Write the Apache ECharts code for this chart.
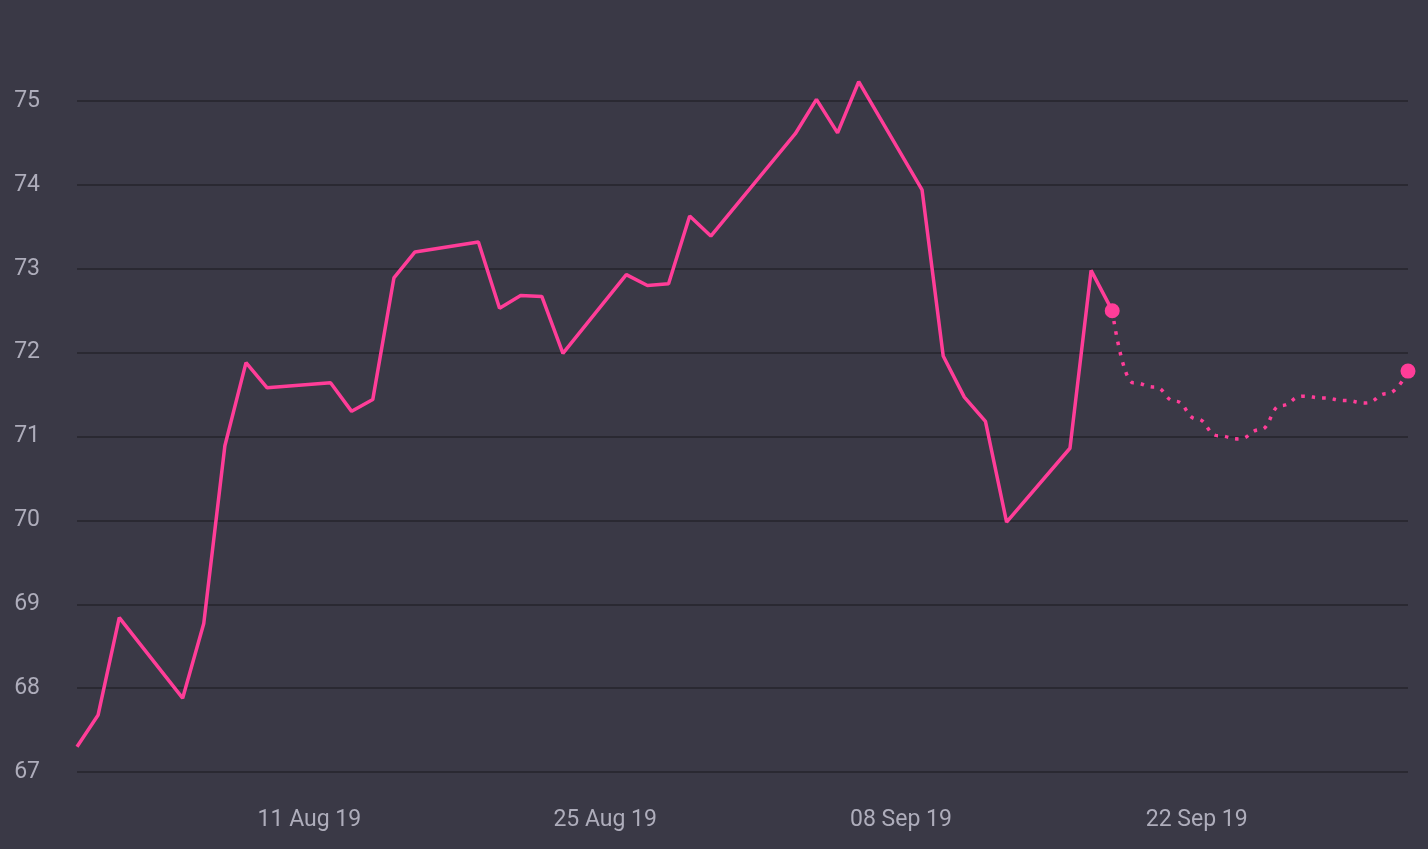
<!DOCTYPE html>
<html>
<head>
<meta charset="utf-8">
<title>Price with forecast</title>
<script src="https://cdn.jsdelivr.net/npm/echarts@6.0.0/dist/echarts.min.js"></script>
<style>
  html, body { margin: 0; padding: 0; background: #3a3946; }
  #chart { width: 1428px; height: 849px; }
</style>
</head>
<body>
<div id="chart"></div>
<script>
  // observed values (business days)
  var actualDates = [
    '2019-07-31', '2019-08-01', '2019-08-02', '2019-08-05', '2019-08-06', '2019-08-07',
    '2019-08-08', '2019-08-09', '2019-08-12', '2019-08-13', '2019-08-14', '2019-08-15',
    '2019-08-16', '2019-08-19', '2019-08-20', '2019-08-21', '2019-08-22', '2019-08-23',
    '2019-08-26', '2019-08-27', '2019-08-28', '2019-08-29', '2019-08-30', '2019-09-03',
    '2019-09-04', '2019-09-05', '2019-09-06', '2019-09-09', '2019-09-10', '2019-09-11',
    '2019-09-12', '2019-09-13', '2019-09-16', '2019-09-17', '2019-09-18'
  ];
  var actualValues = [
    67.30, 67.68, 68.84, 67.88, 68.77, 70.89,
    71.88, 71.58, 71.64, 71.30, 71.44, 72.89,
    73.20, 73.32, 72.53, 72.68, 72.67, 71.99,
    72.93, 72.80, 72.82, 73.63, 73.39, 74.61,
    75.02, 74.62, 75.23, 73.94, 71.96, 71.47,
    71.18, 69.98, 70.86, 72.98, 72.50
  ];

  // forecast (daily)
  var forecastDates = [
    '2019-09-18', '2019-09-19', '2019-09-20', '2019-09-21', '2019-09-22', '2019-09-23',
    '2019-09-24', '2019-09-25', '2019-09-26', '2019-09-27', '2019-09-28', '2019-09-29',
    '2019-09-30', '2019-10-01', '2019-10-02'
  ];
  var forecastValues = [
    72.50, 71.64, 71.59, 71.42, 71.21, 71.01,
    70.97, 71.08, 71.37, 71.48, 71.46, 71.43,
    71.40, 71.51, 71.78
  ];

  var xTickDates = ['2019-08-11', '2019-08-25', '2019-09-08', '2019-09-22'];
  var xTickLabels = ['11 Aug 19', '25 Aug 19', '08 Sep 19', '22 Sep 19'];

  var PINK = '#ff3d98';
  var FONT = "'Liberation Sans Narrow', 'Roboto', sans-serif";

  function ts(d) {
    var p = d.split('-');
    return Date.UTC(+p[0], +p[1] - 1, +p[2]);
  }

  function pairs(dates, values) {
    return dates.map(function (d, i) { return [ts(d), values[i]]; });
  }

  var tickTs = xTickDates.map(ts);
  var last = forecastDates.length - 1;
  var markers = [
    [ts(forecastDates[0]), forecastValues[0]],
    [ts(forecastDates[last]), forecastValues[last]]
  ];

  var chart = echarts.init(document.getElementById('chart'));
  chart.setOption({
    backgroundColor: '#3a3946',
    animation: false,
    grid: { left: 77, right: 20, top: 101, bottom: 77 },
    xAxis: {
      // timestamps on a plain value axis, labels placed at fixed dates
      type: 'value',
      min: ts(actualDates[0]),
      max: ts(forecastDates[last]),
      axisLine: { show: false },
      axisTick: { show: false },
      splitLine: { show: false },
      axisLabel: {
        customValues: tickTs,
        margin: 37,
        color: '#aeadbb',
        fontSize: 23,
        fontFamily: FONT,
        formatter: function (v) {
          var i = tickTs.indexOf(v);
          return i >= 0 ? xTickLabels[i] : '';
        }
      }
    },
    yAxis: {
      type: 'value',
      min: 67,
      max: 75,
      interval: 1,
      axisLine: { show: false },
      axisTick: { show: false },
      axisLabel: {
        margin: 37,
        color: '#aeadbb',
        fontSize: 23,
        fontFamily: FONT
      },
      splitLine: { lineStyle: { color: '#2a2932', width: 2 } }
    },
    series: [
      {
        type: 'line',
        data: pairs(actualDates, actualValues),
        clip: false,
        symbol: 'none',
        lineStyle: { color: PINK, width: 3.5 },
        z: 3
      },
      {
        type: 'line',
        data: pairs(forecastDates, forecastValues),
        clip: false,
        symbol: 'none',
        smooth: 0.5,
        smoothMonotone: 'x',
        lineStyle: { color: PINK, width: 3.5, type: [3.5, 7], cap: 'butt' },
        z: 3
      },
      {
        type: 'scatter',
        data: markers,
        symbol: 'circle',
        symbolSize: 15,
        itemStyle: { color: PINK, opacity: 1 },
        clip: false,
        z: 4
      }
    ]
  });
</script>
</body>
</html>
